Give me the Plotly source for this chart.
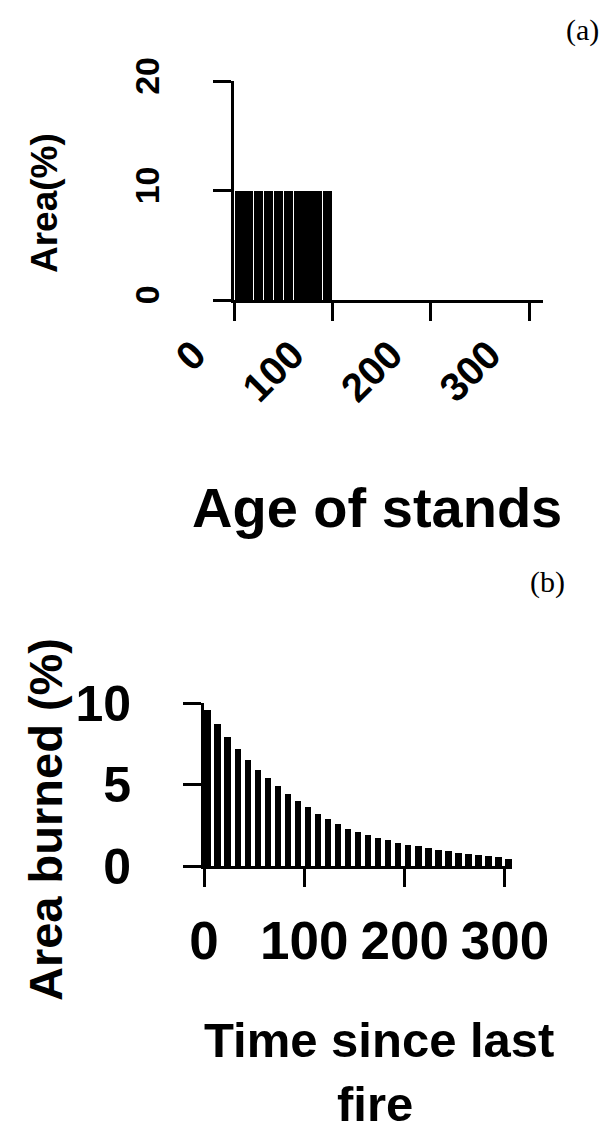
import plotly.graph_objects as go

# Panel (a): age-class distribution of stands
age_classes = [0, 10, 20, 30, 40, 50, 60, 70, 80, 90]
area_pct = [10, 10, 10, 10, 10, 10, 10, 10, 10, 10]
a_xticks = [0, 100, 200, 300]
a_yticks = [0, 10, 20]

# Panel (b): area burned by time since last fire
time_since_fire = [0, 10, 20, 30, 40, 50, 60, 70, 80, 90, 100, 110, 120, 130, 140,
                   150, 160, 170, 180, 190, 200, 210, 220, 230, 240, 250, 260, 270,
                   280, 290, 300]
area_burned = [9.6, 8.7, 7.9, 7.2, 6.5, 5.9, 5.4, 4.9, 4.4, 4.0, 3.6, 3.2, 2.9, 2.6,
               2.3, 2.1, 1.9, 1.7, 1.6, 1.4, 1.3, 1.2, 1.1, 1.0, 0.9, 0.8, 0.75,
               0.7, 0.6, 0.55, 0.45]
b_xticks = [0, 100, 200, 300]
b_yticks = [0, 5, 10]

W, H = 607, 1136
SANS = "Liberation Sans"

fig = go.Figure()
fig.add_trace(go.Bar(x=age_classes, y=area_pct, offset=0.6, width=9.2,
                     marker=dict(color="black", line=dict(width=0)),
                     xaxis="x", yaxis="y", showlegend=False))
fig.add_trace(go.Bar(x=time_since_fire, y=area_burned, offset=0.4, width=6.4,
                     marker=dict(color="black", line=dict(width=0)),
                     xaxis="x2", yaxis="y2", showlegend=False))

axis_common = dict(showgrid=False, zeroline=False, showline=True, linecolor="black",
                   linewidth=3, ticks="outside", ticklen=18, tickwidth=3,
                   tickcolor="black", automargin=False)


def ann(text, x, y, size, angle=0, family=SANS):
    return dict(text=text, x=x / W, y=1 - y / H, xref="paper", yref="paper",
                xanchor="center", yanchor="middle", showarrow=False,
                textangle=angle, font=dict(family=family, size=size, color="black"))


fig.update_layout(
    template="none",
    width=W, height=H, margin=dict(l=0, r=0, t=0, b=0, pad=0),
    paper_bgcolor="white", plot_bgcolor="white", bargap=0,
    xaxis=dict(domain=[234 / W, 543 / W], range=[0, 314], tickvals=a_xticks,
               ticktext=[str(v) for v in a_xticks], tickangle=-45,
               tickfont=dict(family=SANS, size=40, color="black", weight="bold"),
               anchor="y", ticklabelstandoff=-6, ticklabelshift=-40, **axis_common),
    yaxis=dict(domain=[1 - 300 / H, 1 - 81 / H], range=[0, 20], tickvals=a_yticks,
               ticktext=[str(v) for v in a_yticks], tickangle=-90,
               tickfont=dict(family=SANS, size=34, color="black", weight="bold"),
               anchor="x", ticklabelstandoff=40, **axis_common),
    xaxis2=dict(domain=[204 / W, 512 / W], range=[0, 307], tickvals=b_xticks,
                ticktext=[str(v) for v in b_xticks], tickangle=0,
                tickfont=dict(family=SANS, size=53, color="black", weight="bold"),
                anchor="y2", ticklabelstandoff=8, **axis_common),
    yaxis2=dict(domain=[1 - 866 / H, 1 - 703 / H], range=[0, 10], tickvals=b_yticks,
                ticktext=[str(v) for v in b_yticks],
                tickfont=dict(family=SANS, size=50, color="black", weight="bold"),
                anchor="x2", ticklabelstandoff=42, **axis_common),
    annotations=[
        ann("(a)", 582, 30, 30, family="Liberation Serif"),
        ann("(b)", 547, 582, 30, family="Liberation Serif"),
        ann("<b>Area(%)</b>", 45, 203, 37, angle=-90),
        ann("<b>Age of stands</b>", 377, 507, 56),
        ann("<b>Area burned (%)</b>", 45, 820, 47, angle=-90),
        ann("<b>Time since last</b>", 379, 1040, 49),
        ann("<b>fire</b>", 375, 1104, 49),
    ],
)

fig.write_html("out.html")
